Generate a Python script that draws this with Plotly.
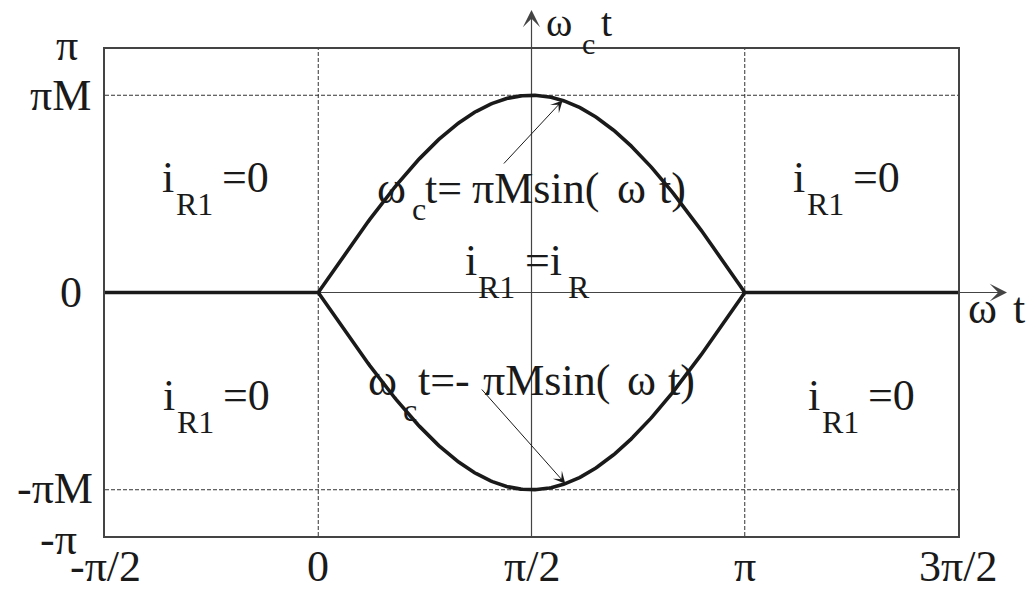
import numpy as np
import plotly.graph_objects as go

PI = np.pi

# modulation index
M = 0.81

# axis ticks
x_tick_vals = [-PI / 2, 0, PI / 2, PI, 3 * PI / 2]
x_tick_text = ["-π/2", "0", "π/2", "π", "3π/2"]
y_tick_vals = [PI, PI * M, 0, -PI * M, -PI]
y_tick_text = ["π", "πM", "0", "-πM", "-π"]

# carrier-phase boundaries  ω_c t = ±πM·sin(ωt) over the conduction half period
wt = np.linspace(0, PI, 241)
upper = PI * M * np.sin(wt)
lower = -PI * M * np.sin(wt)

# i_R1 = 0 segments outside the conduction interval
zero_left = [-PI / 2, 0]
zero_right = [PI, 3 * PI / 2]

# pointer arrows: (x of head on curve, tail x, tail y)
ptr_upper = (1.80, 1.357, 1.645)
ptr_lower = (1.82, 1.195, -1.232)

# ---- figure geometry (pixels) ----
W, H = 1035, 590
L, R, T, B = 105, 958, 49, 536
FONT = "Times New Roman, Liberation Serif, Times, serif"
INK = "#1a1a1a"
GREY = "#444444"
MAIN = 44
SUB = 32

fig = go.Figure()

# dashed guide lines at ±πM and at ωt = 0, π
for yv in (PI * M, -PI * M):
    fig.add_trace(go.Scatter(x=[-PI / 2, 3 * PI / 2], y=[yv, yv], mode="lines",
                             line=dict(color="#333333", width=1, dash="4px,2px"),
                             hoverinfo="skip"))
for xv in (0, PI):
    fig.add_trace(go.Scatter(x=[xv, xv], y=[-PI, PI], mode="lines",
                             line=dict(color="#333333", width=1, dash="4px,2px"),
                             hoverinfo="skip"))

# thin coordinate axes through (π/2, 0)
fig.add_trace(go.Scatter(x=[-PI / 2, 3 * PI / 2], y=[0, 0], mode="lines",
                         line=dict(color=GREY, width=1.2), hoverinfo="skip"))
fig.add_trace(go.Scatter(x=[PI / 2, PI / 2], y=[-PI, PI], mode="lines",
                         line=dict(color=GREY, width=1.2), hoverinfo="skip"))

# boundary curves and zero segments
curve = dict(color=INK, width=3.6)
fig.add_trace(go.Scatter(x=wt, y=upper, mode="lines", line=curve, hoverinfo="skip"))
fig.add_trace(go.Scatter(x=wt, y=lower, mode="lines", line=curve, hoverinfo="skip"))
fig.add_trace(go.Scatter(x=zero_left, y=[0, 0], mode="lines", line=curve, hoverinfo="skip"))
fig.add_trace(go.Scatter(x=zero_right, y=[0, 0], mode="lines", line=curve, hoverinfo="skip"))


def run(s, left, baseline, size=MAIN, anchor="left"):
    """Text run placed by its left edge (or centre/right) and baseline, in figure pixels."""
    mid = baseline - 0.3375 * size
    shift = {"left": -1, "center": 0, "right": 1}[anchor]
    return dict(text=s, x=(left + shift) / W, y=1 - mid / H, xref="paper", yref="paper",
                xanchor=anchor, yanchor="middle", showarrow=False, borderpad=0,
                font=dict(family=FONT, size=size, color=INK))


def tick_label(s, x=None, y=None, px=None, anchor="center", yshift=0):
    """Tick label tied to an axis value on one side, figure pixels on the other."""
    if x is not None:
        return dict(text=s, x=x, xref="x", y=1 - 566 / H, yref="paper",
                    xanchor="center", yanchor="middle", showarrow=False, borderpad=0,
                    font=dict(family=FONT, size=MAIN, color=INK))
    return dict(text=s, x=px / W, xref="paper", y=y, yref="y", yshift=yshift,
                xanchor=anchor, yanchor="middle", showarrow=False, borderpad=0,
                font=dict(family=FONT, size=MAIN, color=INK))


ann = []

# tick labels
for v, s in zip(x_tick_vals, x_tick_text):
    ann.append(tick_label(s, x=v))
y_label_pos = [(67, "center", 4), (92, "right", 0), (83, "right", 0),
               (94, "right", 1), (58, "center", -3)]
for v, s, (px, anc, ys) in zip(y_tick_vals, y_tick_text, y_label_pos):
    ann.append(tick_label(s, y=v, px=px, anchor=anc, yshift=ys))

# i_R1 = 0 in the four outer regions
for ix, by in ((162, 192), (793, 192), (163, 410), (808, 410)):
    ann.append(run("i", ix, by))
    ann.append(run("R1", ix + 14, by + 23, SUB))
    ann.append(run("=0", ix + 60, by))

# i_R1 = i_R in the conduction region
ann += [run("i", 465, 275), run("R1", 478, 298, SUB),
        run("=i", 525, 275), run("R", 568, 298, SUB)]

# boundary equations
ann += [run("ω", 377, 203), run("c", 412, 220, SUB), run("t=", 425, 203),
        run("πMsin(", 472, 203), run("ω", 617, 203), run("t)", 659, 203)]
ann += [run("ω", 368, 395), run("c", 403, 421, SUB), run("t=-", 418, 395),
        run("πMsin(", 483, 395), run("ω", 627, 395), run("t)", 668, 395)]

# axis names
ann += [run("ω", 546, 36, 40), run("c", 582, 54, 30), run("t", 601, 36, 40)]
ann += [run("ω", 968, 323), run("t", 1013, 323)]

# axis arrows extending beyond the frame
ann.append(dict(x=PI / 2, xref="x", y=1 - 10 / H, yref="paper", ax=0, ay=T - 10,
                showarrow=True, arrowhead=3, arrowsize=2.4, arrowwidth=1.2,
                arrowcolor=GREY, text="", standoff=0))
ann.append(dict(x=1007 / W, xref="paper", y=0, yref="y", ax=-(1007 - R), ay=0,
                showarrow=True, arrowhead=3, arrowsize=2.4, arrowwidth=1.2,
                arrowcolor=GREY, text="", standoff=0))

# pointers from the equations to the curves
for (hx, tx, ty), sign in ((ptr_upper, 1), (ptr_lower, -1)):
    ann.append(dict(x=hx, y=sign * PI * M * np.sin(hx), xref="x", yref="y",
                    ax=tx, ay=ty, axref="x", ayref="y", showarrow=True,
                    arrowhead=3, arrowsize=2, arrowwidth=1, arrowcolor=INK,
                    text="", standoff=0))

fig.update_layout(
    width=W, height=H,
    margin=dict(l=0, r=0, t=0, b=0),
    paper_bgcolor="white", plot_bgcolor="white",
    font=dict(family=FONT),
    showlegend=False, hovermode=False,
    annotations=ann,
    xaxis=dict(domain=[L / W, R / W], range=[-PI / 2, 3 * PI / 2], automargin=False,
               showticklabels=False, showgrid=False, zeroline=False, ticks="",
               showline=True, mirror=True, linecolor=GREY, linewidth=2),
    yaxis=dict(domain=[1 - B / H, 1 - T / H], range=[-PI, PI], automargin=False,
               showticklabels=False, showgrid=False, zeroline=False, ticks="",
               showline=True, mirror=True, linecolor=GREY, linewidth=2),
)

fig.write_html("out.html")
